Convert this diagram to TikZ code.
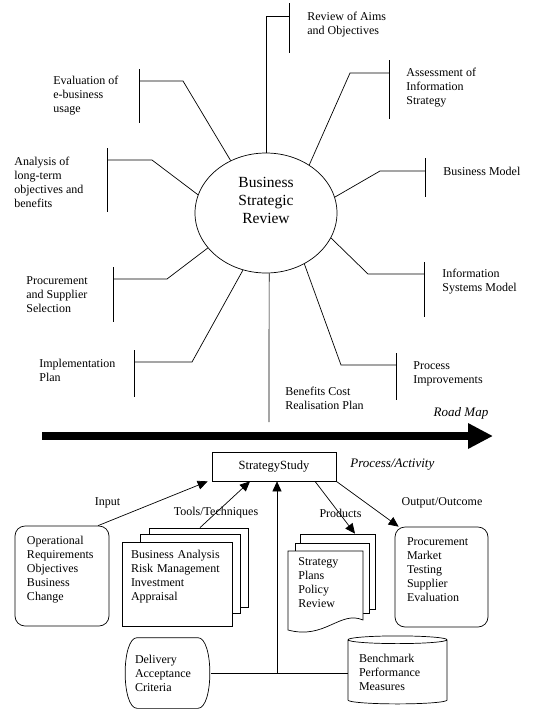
\documentclass[tikz,border=0pt]{standalone}
\usepackage{fontspec}
\setmainfont{Liberation Serif}
\usetikzlibrary{arrows.meta,shapes.geometric}

\begin{document}
\begin{tikzpicture}[x=1pt, y=-1pt, line width=0.7pt]
    % Define styles
    \tikzset{
        topic/.style={anchor=west, align=left, inner sep=0pt, font=\fontsize{12}{14}\selectfont},
        hub/.style={draw, ellipse, minimum width=142pt, minimum height=120pt, inner sep=0pt, text width=90pt, align=center, text depth=61pt, font=\fontsize{15.5}{18}\selectfont},
        flow/.style={-{Triangle[length=10pt,width=9pt]}},
        roadmap/.style={line width=8pt, -{Triangle[length=25pt,width=24pt]}},
        tag/.style={inner sep=0pt, font=\fontsize{12}{14}\selectfont},
        tagit/.style={inner sep=0pt, font=\fontsize{13}{15}\selectfont\itshape},
        boxtext/.style={align=left, text width=#1, font=\fontsize{12}{14}\selectfont},
        roundbox/.style={draw, rounded corners=10pt, inner sep=0pt},
        sheet/.style={draw, fill=white, inner sep=0pt}
    }
    \useasboundingbox (0,0) rectangle (544,710);

    % Centre: Business Strategic Review
    \node[hub] (bsr) at (266,213) {Business\\Strategic\\Review};

    % Spokes, right side
    \coordinate (aimsbar) at (289,16);
    \draw (bsr.north) |- (aimsbar);
    \draw (289,3) -- (289,53);
    \node[topic] (aims) at (307,24.5) {Review of Aims\\and Objectives};

    \coordinate (assessbar) at (389,73);
    \draw (bsr.48) -- (350,73) -- (assessbar);
    \draw (389,60) -- (389,119);
    \node[topic] (assess) at (406,87.5) {Assessment of\\Information\\Strategy};

    \coordinate (modelbar) at (425,171);
    \draw (bsr.13) -- (380,171) -- (modelbar);
    \draw (425,158) -- (425,197);
    \node[topic] (model) at (443,171) {Business Model};

    \coordinate (ismbar) at (424,274);
    \draw (bsr.-21) -- (368,274) -- (ismbar);
    \draw (424,262) -- (424,317);
    \node[topic] (ism) at (442,282) {Information\\Systems Model};

    \coordinate (procbar) at (396,365);
    \draw (bsr.-53) -- (341,365) -- (procbar);
    \draw (396,353) -- (396,400);
    \node[topic] (proc) at (413,374) {Process\\Improvements};

    \coordinate (benefitsend) at (269,422);
    \draw (bsr.-87) -- (benefitsend);
    \node[topic] (benefits) at (285,398) {Benefits Cost\\Realisation Plan};

    % Spokes, left side
    \coordinate (implbar) at (134,362);
    \draw (bsr.248) -- (192,362) -- (implbar);
    \draw (134,350) -- (134,397);
    \node[topic] (impl) at (39,370) {Implementation\\Plan};

    \coordinate (suppbar) at (113,279);
    \draw (bsr.211) -- (167,279) -- (suppbar);
    \draw (113,267) -- (113,322);
    \node[topic] (supp) at (26,295) {Procurement\\and Supplier\\Selection};

    \coordinate (longbar) at (107,160);
    \draw (bsr.165) -- (152,160) -- (longbar);
    \draw (107,148) -- (107,212);
    \node[topic] (long) at (14,182) {Analysis of\\long-term\\objectives and\\benefits};

    \coordinate (evalbar) at (139,81);
    \draw (bsr.124.5) -- (183,81) -- (evalbar);
    \draw (139,69) -- (139,123);
    \node[topic] (eval) at (53,95.5) {Evaluation of\\e-business\\usage};

    % Road map
    \coordinate (rmstart) at (42,436);
    \coordinate (rmend) at (493,436);
    \draw[roadmap] (rmstart) -- (rmend);
    \node[tagit] (rmlabel) at (461,413) {Road Map};

    % Strategy study
    \node[draw, minimum width=124pt, minimum height=29pt, inner sep=0pt, font=\fontsize{12.5}{14}\selectfont] (study) at (274,466.5) {StrategyStudy};
    \node[tagit, anchor=west] (activity) at (350,465) {Process/Activity};

    % Input
    \node[roundbox, minimum width=94pt, minimum height=100pt, boxtext=70pt, text depth=72pt] (ops) at (62,576) {Operational\\Requirements\\Objectives\\Business\\Change};

    % Tools/Techniques
    \node[sheet, minimum width=99pt, minimum height=79pt] (toolsback) at (198.5,567.5) {};
    \node[sheet, minimum width=100pt, minimum height=79pt] (toolsmid) at (190,573.5) {};
    \node[sheet, minimum width=110pt, minimum height=84pt, boxtext=92pt, text depth=60pt] (tools) at (177,584) {Business Analysis\\Risk Management\\Investment\\Appraisal};

    % Products
    \node[sheet, minimum width=75pt, minimum height=75pt] (prodback) at (337.5,571.5) {};
    \node[sheet, minimum width=74pt, minimum height=70pt] (prodmid) at (332,578) {};
    \draw[fill=white] (288,630) -- (288,551) -- (363,551) -- (363,620) .. controls (340,610) and (325,640) .. (288,630) -- cycle;
    \node[topic] (prodtext) at (298,583) {Strategy\\Plans\\Policy\\Review};

    % Output/Outcome
    \node[roundbox, minimum width=93pt, minimum height=100pt, boxtext=69pt, text depth=71pt] (outcome) at (441.5,577) {Procurement\\Market\\Testing\\Supplier\\Evaluation};

    % Measures
    \node[inner sep=0pt, minimum width=86pt, minimum height=70pt, boxtext=65pt] (deliv) at (167.5,673) {Delivery\\Acceptance\\Criteria};
    \draw ([xshift=13pt]deliv.north west) -- ([xshift=-13pt]deliv.north east)
        .. controls ([xshift=3pt]deliv.north east) and ([xshift=3pt]deliv.south east) .. ([xshift=-13pt]deliv.south east)
        -- ([xshift=13pt]deliv.south west)
        .. controls ([xshift=-3pt]deliv.south west) and ([xshift=-3pt]deliv.north west) .. ([xshift=13pt]deliv.north west) -- cycle;
    \node[draw, cylinder, shape border rotate=90, aspect=0.1, minimum width=99pt, minimum height=68pt, inner sep=0pt, boxtext=77pt] (bench) at (397.5,672) {Benchmark\\Performance\\Measures};
    \coordinate (jct) at (277,673);
    \draw (deliv.east) -- (bench.west |- deliv.east);

    % Arrows
    \draw[flow] (ops.north -| 98,0) -- ([xshift=-4pt]study.south west);
    \draw[flow] (toolsback.north -| 200,0) -- (study.south -| 250,0);
    \draw[flow] (jct) -- (study.south -| jct);
    \draw[flow] (study.south -| 315,0) -- (prodback.north -| 355,0);
    \draw[flow] (study.south east) -- ([xshift=4pt]outcome.north west);

    % Arrow labels
    \node[tag] (lblinput) at (107.5,503) {Input};
    \node[tag] (lbltools) at (216,513) {Tools/Techniques};
    \node[tag] (lblproducts) at (340.5,513) {Products};
    \node[tag] (lbloutput) at (442,503) {Output/Outcome};
\end{tikzpicture}
\end{document}
